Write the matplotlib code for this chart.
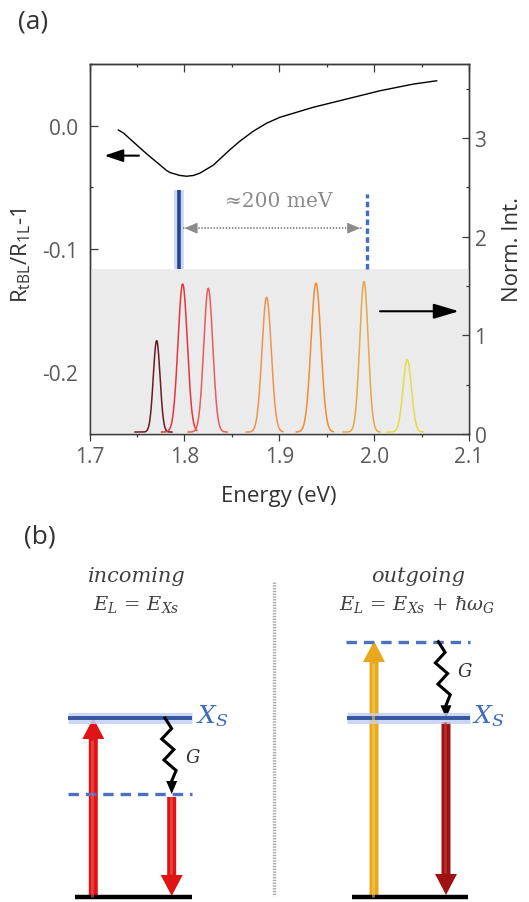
import numpy as np
import matplotlib
matplotlib.use('Agg')
import matplotlib.pyplot as plt
from matplotlib.patches import FancyArrow
from matplotlib.ticker import MultipleLocator, FormatStrFormatter

plt.rcParams['font.family'] = ['Open Sans', 'DejaVu Sans']
plt.rcParams['axes.unicode_minus'] = False
plt.rcParams['lines.scale_dashes'] = False

# ---------------- data (panel a) ----------------
refl_energy = [1.7304, 1.7357, 1.7497, 1.7603, 1.7708, 1.7813, 1.7848, 1.7954,
               1.8024, 1.8094, 1.8164, 1.8305, 1.8410, 1.8480, 1.8586, 1.8726,
               1.8867, 1.9007, 1.9358, 1.9710, 2.0061, 2.0412, 2.0659]
refl_value = [-0.0035, -0.0059, -0.0156, -0.0229, -0.0296, -0.0364, -0.0380, -0.0404,
              -0.0410, -0.0404, -0.0385, -0.0320, -0.0245, -0.0195, -0.0125, -0.0045,
              0.0020, 0.0068, 0.0149, 0.0216, 0.0283, 0.0337, 0.0364]

peak_center = [1.7708, 1.7982, 1.8252, 1.8867, 1.9387, 1.9893, 2.0349]
peak_height = [0.946, 1.52, 1.477, 1.386, 1.53, 1.545, 0.754]
peak_fwhm = [0.0084, 0.0116, 0.0112, 0.0116, 0.0123, 0.0105, 0.0105]
peak_start = [1.748, 1.776, 1.804, 1.865, 1.918, 1.9675, 2.013]
peak_end = [1.787, 1.813, 1.845, 1.904, 1.957, 2.006, 2.052]
peak_base = 0.02
peak_colors = ['#6a1a22', '#e8343c', '#ee5a58', '#f2924e', '#f18c30', '#e6a845', '#e4dc48']

x_ticks = [1.7, 1.8, 1.9, 2.0, 2.1]
left_ticks = [0.0, -0.1, -0.2]
right_ticks = [0, 1, 2, 3]

xs_energy = 1.7943          # solid blue marker (X_S)
out_energy = 1.9921         # dashed blue marker (outgoing)
shade_top = 1.67            # top of gray region (Norm. Int.)
sep_label = '≈200 meV'

# ---------------- figure ----------------
W, H = 529, 903
fig = plt.figure(figsize=(W / 100, H / 100), dpi=100)

L, R, T, B = 89.5, 469, 65, 435
ax = fig.add_axes([L / W, 1 - B / H, (R - L) / W, (B - T) / H])
ax.set_xlim(1.7, 2.1)
ax.set_ylim(-0.25, 0.05)
ax2 = ax.twinx()
ax2.set_ylim(0, 3.75)

spine_c = '#3a3a3a'
lab_c = '#5a5a5a'
for a in (ax, ax2):
    for s in a.spines.values():
        s.set_color(spine_c)
        s.set_linewidth(1.0)

# ticks
ax.set_xticks(x_ticks)
ax.set_xticklabels([f'{v:.1f}' for v in x_ticks])
ax.xaxis.set_minor_locator(MultipleLocator(0.05))
ax.tick_params(axis='x', which='both', direction='out', top=False, bottom=True,
               color=spine_c, labelcolor=lab_c, labelsize=15, pad=4)
ax.tick_params(axis='x', which='major', length=5, width=0.9)
ax.tick_params(axis='x', which='minor', length=2.5, width=0.9)

sec = ax.secondary_xaxis('top')
sec.set_xticks(x_ticks)
sec.set_xticklabels([])
sec.xaxis.set_minor_locator(MultipleLocator(0.05))
sec.tick_params(which='both', direction='in', color=spine_c)
sec.tick_params(which='major', length=5.5, width=0.9)
sec.tick_params(which='minor', length=2.5, width=0.9)
sec.spines['top'].set_color(spine_c)

ax.set_yticks(left_ticks)
ax.yaxis.set_major_formatter(FormatStrFormatter('%.1f'))
ax.yaxis.set_minor_locator(MultipleLocator(0.05))
ax.tick_params(axis='y', which='both', direction='in', left=True, right=False,
               color=spine_c, labelcolor=lab_c, labelsize=15, pad=8)
ax.tick_params(axis='y', which='major', length=5.5, width=0.9)
ax.tick_params(axis='y', which='minor', length=2.5, width=0.9)

ax2.set_yticks(right_ticks)
ax2.yaxis.set_minor_locator(MultipleLocator(0.5))
ax2.tick_params(axis='y', which='both', direction='in', color=spine_c,
                labelcolor=lab_c, labelsize=15, pad=4)
ax2.tick_params(axis='y', which='major', length=5, width=0.9)
ax2.tick_params(axis='y', which='minor', length=2.5, width=0.9)

# gray region
ax2.axhspan(0, shade_top, color='#ebebeb', zorder=0, lw=0)

# reflectance contrast
ax.plot(refl_energy, refl_value, color='black', lw=1.0, zorder=3)
ax.annotate('', xy=(1.7128, -0.0243), xytext=(1.755, -0.0243),
            arrowprops=dict(arrowstyle='-|>,head_length=0.8,head_width=0.27',
                            color='black', lw=1.5, mutation_scale=14))

# PL spectra
for c, h, fw, e0, e1, col in zip(peak_center, peak_height, peak_fwhm,
                                  peak_start, peak_end, peak_colors):
    e = np.linspace(e0, e1, 300)
    y = peak_base + (h - peak_base) * np.exp(-4 * np.log(2) * (e - c) ** 2 / fw ** 2)
    ax2.plot(e, y, color=col, lw=1.1, zorder=3)

ax2.annotate('', xy=(2.0922, 1.244), xytext=(2.0033, 1.244),
             arrowprops=dict(arrowstyle='-|>,head_length=1.1,head_width=0.33',
                             color='black', lw=1.5, mutation_scale=14))

# X_S marker (solid, with glow) and outgoing marker (dashed)
ax2.plot([xs_energy, xs_energy], [shade_top, 2.47], color='#c0cef6', lw=7,
         solid_capstyle='butt', alpha=0.8, zorder=4)
ax2.plot([xs_energy, xs_energy], [shade_top, 2.47], color='#22448c', lw=2.6,
         solid_capstyle='butt', zorder=5)
ax2.plot([out_energy, out_energy], [shade_top, 2.434], color='#3f6fbe', lw=2.4,
         dashes=(4, 2.4), zorder=5)

# ≈200 meV dotted double arrow
ax2.plot([xs_energy + 0.004, out_energy - 0.005], [2.086, 2.086], color='#8a8a8a',
         lw=1.4, ls=(0, (1, 1.2)), zorder=5)
ax2.annotate('', xy=(xs_energy + 0.003, 2.086), xytext=(xs_energy + 0.012, 2.086),
             arrowprops=dict(arrowstyle='-|>,head_length=0.7,head_width=0.3',
                             color='#8a8a8a', lw=0.5, mutation_scale=12))
ax2.annotate('', xy=(out_energy - 0.004, 2.086), xytext=(out_energy - 0.013, 2.086),
             arrowprops=dict(arrowstyle='-|>,head_length=0.7,head_width=0.3',
                             color='#8a8a8a', lw=0.5, mutation_scale=12))
ax2.text(1.8995, 2.37, sep_label, ha='center', va='center', color='#8a8a8a',
         fontsize=14.5, family='DejaVu Serif')

# labels
fig.text(279 / W, 1 - 497 / H, 'Energy (eV)', ha='center', va='center',
         fontsize=16, color='#333333')
fig.text(21 / W, 1 - 255 / H, r'R$_{\mathregular{tBL}}$/R$_{\mathregular{1L}}$-1',
         ha='center', va='center', rotation=90, fontsize=16, color='#333333')
fig.text(513 / W, 1 - 250 / H, 'Norm. Int.', ha='center', va='center',
         rotation=90, fontsize=16, color='#333333')
fig.text(33 / W, 1 - 22 / H, '(a)', ha='center', va='center', fontsize=19,
         color='#333333')
fig.text(40 / W, 1 - 537 / H, '(b)', ha='center', va='center', fontsize=19,
         color='#333333')

# ---------------- panel b (schematic, pixel coordinates) ----------------
axb = fig.add_axes([0, 0, 1, 380 / H])
axb.set_xlim(0, W)
axb.set_ylim(H, H - 380)
axb.axis('off')

blue_line = '#3556a0'
glow = '#c3cff5'
dash_blue = '#4a72c0'
txt_c = '#404040'
xs_c = '#3d6cb8'


def level(x0, x1, y, kind):
    if kind == 'solid':
        axb.plot([x0, x1], [y, y], color=glow, lw=8, solid_capstyle='butt', alpha=0.85)
        axb.plot([x0, x1], [y, y], color=blue_line, lw=2.8, solid_capstyle='butt')
    elif kind == 'dashed':
        axb.plot([x0, x1], [y, y], color=dash_blue, lw=2.4, dashes=(7.5, 5))
    else:
        axb.plot([x0, x1], [y, y], color='black', lw=3.2, solid_capstyle='butt')


def big_arrow(x, y0, y1, col, hi):
    axb.add_patch(FancyArrow(x, y0, 0, y1 - y0, width=9, head_width=22,
                             head_length=21, length_includes_head=True,
                             color=col, lw=0))
    sgn = 1 if y1 > y0 else -1
    axb.plot([x - 1, x - 1], [y0, y1 - sgn * 22], color=hi, lw=2.0, alpha=0.6,
             solid_capstyle='butt')


def wavy(x0, y0, x1, y1, n=6, amp=5.5, head=13):
    ys = np.linspace(y0, y1 - head, n + 1)
    xs = np.linspace(x0, x1, n + 1)
    off = np.array([0] + [amp * (-1) ** (i + 1) for i in range(1, n)] + [0])
    axb.plot(xs + off, ys, color='black', lw=2.2, solid_joinstyle='miter')
    axb.add_patch(FancyArrow(x1, y1 - head - 1, 0, head + 1, width=0.1,
                             head_width=11, head_length=head,
                             length_includes_head=True, color='black', lw=0))


# left: incoming
axb.text(136.7, 576.7, 'incoming', ha='center', va='center', fontsize=15,
         style='italic', family='DejaVu Serif', color=txt_c)
axb.text(136.7, 605, r'$E_L\, =\, E_{Xs}$', ha='center', va='center', fontsize=14,
         math_fontfamily='dejavuserif', color=txt_c)
level(68.3, 191.7, 719, 'solid')
level(68.3, 191.7, 795, 'dashed')
level(75, 191.7, 898, 'ground')
big_arrow(93.3, 898, 719, '#e01414', '#f06060')
wavy(165, 719, 171.7, 795)
big_arrow(171.7, 798, 897, '#e01414', '#f06060')
axb.text(196, 716, r'$X_S$', ha='left', va='center', fontsize=18,
         math_fontfamily='dejavuserif', color=xs_c)
axb.text(193.3, 758, r'$G$', ha='center', va='center', fontsize=13,
         math_fontfamily='dejavuserif', color='#303030')

# separator
axb.plot([274, 274], [583, 897], color='#aaaaaa', lw=2.4, ls=(0, (1, 1)))

# right: outgoing
axb.text(418.3, 576.7, 'outgoing', ha='center', va='center', fontsize=15,
         style='italic', family='DejaVu Serif', color=txt_c)
axb.text(416.7, 605, r'$E_L\, =\, E_{Xs}\, +\, \hbar\omega_G$', ha='center',
         va='center', fontsize=14, math_fontfamily='dejavuserif', color=txt_c)
level(346, 470, 642.7, 'dashed')
level(347.3, 470, 719, 'solid')
level(351.7, 468.3, 898, 'ground')
big_arrow(374, 898, 642, '#e8a81c', '#f6cc60')
wavy(438.3, 642.7, 446, 719.3)
big_arrow(446, 723, 896, '#a01212', '#c04040')
axb.text(472, 716, r'$X_S$', ha='left', va='center', fontsize=18,
         math_fontfamily='dejavuserif', color=xs_c)
axb.text(465, 671.7, r'$G$', ha='center', va='center', fontsize=13,
         math_fontfamily='dejavuserif', color='#303030')

fig.savefig('out.png', dpi=100)
